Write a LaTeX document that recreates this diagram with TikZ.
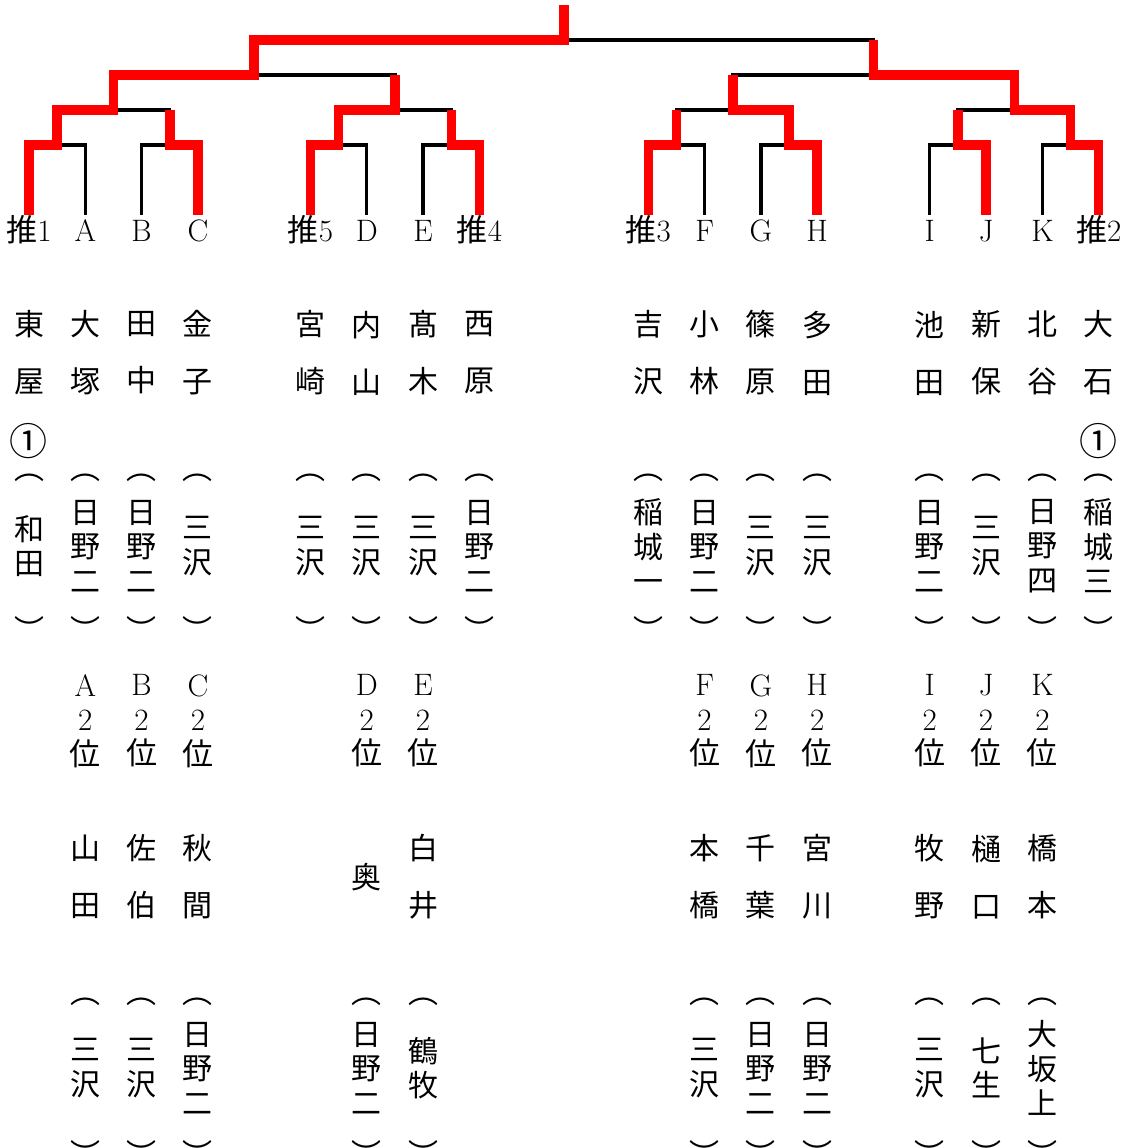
\documentclass[tikz,border=0pt]{standalone}
\usepackage{fontspec}
\newfontfamily\jp{Noto Sans CJK JP}
\usetikzlibrary{calc}
\definecolor{cWin}{HTML}{FF0000}
\tikzset{
  lose/.style={draw=black, line width=1.65pt},
  win/.style={draw=cWin, line width=4.75pt},
  lbl/.style={anchor=base, inner sep=0pt, font=\fontsize{15.5}{17.25}\selectfont},
  nm/.style={align=center, inner sep=0pt, font=\jp\fontsize{15}{28.5}\selectfont},
  sc/.style={align=center, inner sep=0pt, font=\jp\fontsize{15}{17.25}\selectfont},
  pr/.style={inner sep=0pt, font=\jp\fontsize{15}{17.25}\selectfont},
  seed/.style={inner sep=0pt, font=\jp\fontsize{19}{20}\selectfont},
  rk/.style={align=center, inner sep=0pt, font=\fontsize{15.5}{17.25}\selectfont}
}

\begin{document}
\begin{tikzpicture}[x=0.5pt, y=-0.5pt]
\useasboundingbox (0,0) rectangle (1127,1148);
% leaves
\foreach \i/\L in {0/{{\jp 推}1}, 1/A, 2/B, 3/C, 5/{{\jp 推}5}, 6/D, 7/E, 8/{{\jp 推}4},
    11/{{\jp 推}3}, 12/F, 13/G, 14/H, 16/I, 17/J, 18/K, 19/{{\jp 推}2}} {
  \coordinate (t\i) at ({29+56.3*\i},215);
  \node[lbl] (l\i) at ({29+56.3*\i},241.5) {\L};
}
% matches
\coordinate (a1) at ($(t0)!.5!(t1)-(0,70)$);
\coordinate (a2) at ($(t2)!.5!(t3)-(0,70)$);
\coordinate (a3) at ($(t5)!.5!(t6)-(0,70)$);
\coordinate (a4) at ($(t7)!.5!(t8)-(0,70)$);
\coordinate (a5) at ($(t11)!.5!(t12)-(0,70)$);
\coordinate (a6) at ($(t13)!.5!(t14)-(0,70)$);
\coordinate (a7) at ($(t16)!.5!(t17)-(0,70)$);
\coordinate (a8) at ($(t18)!.5!(t19)-(0,70)$);
\coordinate (b1) at ($(a1)!.5!(a2)-(0,35)$);
\coordinate (b2) at ($(a3)!.5!(a4)-(0,35)$);
\coordinate (b3) at ($(a5)!.5!(a6)-(0,35)$);
\coordinate (b4) at ($(a7)!.5!(a8)-(0,35)$);
\coordinate (c1) at ($(b1)!.5!(b2)-(0,35)$);
\coordinate (c2) at ($(b3)!.5!(b4)-(0,35)$);
\coordinate (f) at ($(c1)!.5!(c2)-(0,35)$);
\coordinate (top) at ($(f)-(0,35)$);
% bracket
\draw[lose] (t0) |- (a1) -| (t1);  \draw[lose] (t2) |- (a2) -| (t3);
\draw[lose] (t5) |- (a3) -| (t6);  \draw[lose] (t7) |- (a4) -| (t8);
\draw[lose] (t11) |- (a5) -| (t12); \draw[lose] (t13) |- (a6) -| (t14);
\draw[lose] (t16) |- (a7) -| (t17); \draw[lose] (t18) |- (a8) -| (t19);
\draw[lose] (a1) |- (b1) -| (a2);  \draw[lose] (a3) |- (b2) -| (a4);
\draw[lose] (a5) |- (b3) -| (a6);  \draw[lose] (a7) |- (b4) -| (a8);
\draw[lose] (b1) |- (c1) -| (b2);  \draw[lose] (b3) |- (c2) -| (b4);
\draw[lose] (c1) |- (f) -| (c2);
% winners
\draw[win] (t0) |- (a1) |- (b1) |- (c1) |- (f) -- (top);
\draw[win] (t3) |- (a2) -- (a2 |- b1);
\draw[win] (t5) |- (a3) |- (b2) -- (b2 |- c1);
\draw[win] (t8) |- (a4) -- (a4 |- b2);
\draw[win] (t11) |- (a5) -- (a5 |- b3);
\draw[win] (t14) |- (a6) |- (b3) -- (b3 |- c2);
\draw[win] (t17) |- (a7) -- (a7 |- b4);
\draw[win] (t19) |- (a8) |- (b4) |- (c2) -- (c2 |- f);
% players
\foreach \i/\n/\s in {0/{東\\屋}/{和\\田}, 1/{大\\塚}/{日\\野\\二}, 2/{田\\中}/{日\\野\\二},
    3/{金\\子}/{三\\沢}, 5/{宮\\崎}/{三\\沢}, 6/{内\\山}/{三\\沢}, 7/{髙\\木}/{三\\沢},
    8/{西\\原}/{日\\野\\二}, 11/{吉\\沢}/{稲\\城\\一}, 12/{小\\林}/{日\\野\\二},
    13/{篠\\原}/{三\\沢}, 14/{多\\田}/{三\\沢}, 16/{池\\田}/{日\\野\\二},
    17/{新\\保}/{三\\沢}, 18/{北\\谷}/{日\\野\\四}, 19/{大\\石}/{稲\\城\\三}} {
  \node[nm] (nm\i) at ({29+56.3*\i},353) {\n};
  \node[pr] (po\i) at ({29+56.3*\i},478) {︵};
  \node[sc] (sc\i) at ({29+56.3*\i},546) {\s};
  \node[pr] (pc\i) at ({29+56.3*\i},629) {︶};
}
\node[seed] (ci0) at (29,441) {①};
\node[seed] (ci19) at ({29+56.3*19},441) {①};
% second places
\foreach \i/\L/\n/\s in {1/A/{山\\田}/{三\\沢}, 2/B/{佐\\伯}/{三\\沢}, 3/C/{秋\\間}/{日\\野\\二},
    6/D/{奥}/{日\\野\\二}, 7/E/{白\\井}/{鶴\\牧}, 12/F/{本\\橋}/{三\\沢},
    13/G/{千\\葉}/{日\\野\\二}, 14/H/{宮\\川}/{日\\野\\二}, 16/I/{牧\\野}/{三\\沢},
    17/J/{樋\\口}/{七\\生}, 18/K/{橋\\本}/{大\\坂\\上}} {
  \node[rk] (rk\i) at ({29+56.3*\i},721) {\L\\2\\{\jp 位}};
  \node[nm] (bn\i) at ({29+56.3*\i},877) {\n};
  \node[pr] (bo\i) at ({29+56.3*\i},1002) {︵};
  \node[sc] (bs\i) at ({29+56.3*\i},1068) {\s};
  \node[pr] (bc\i) at ({29+56.3*\i},1153) {︶};
}
\end{tikzpicture}
\end{document}
